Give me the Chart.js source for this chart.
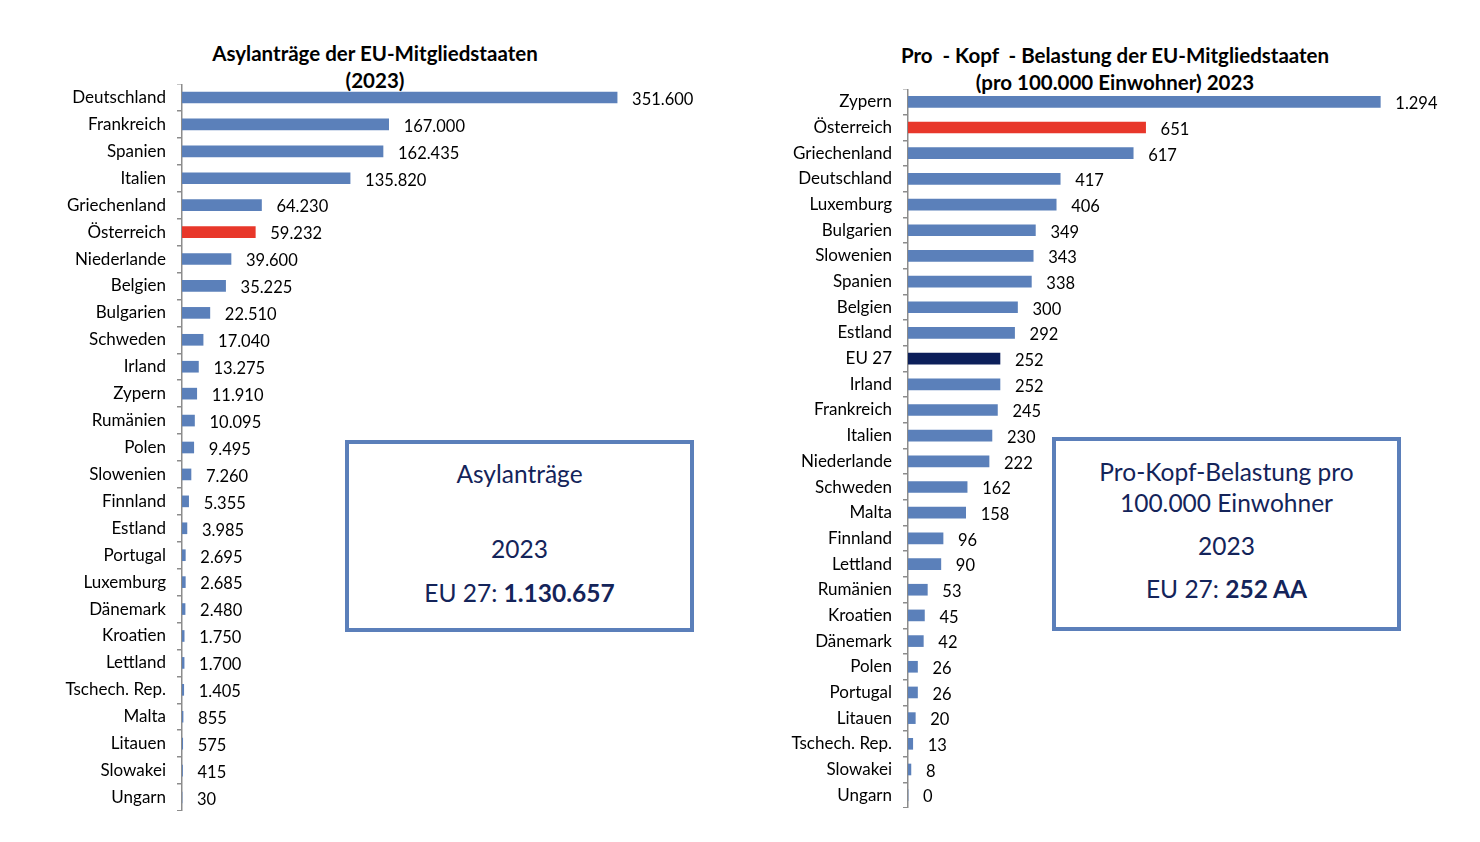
<!DOCTYPE html>
<html lang="de">
<head>
<meta charset="utf-8">
<title>Asylanträge EU 2023</title>
<script src="https://cdn.jsdelivr.net/npm/chart.js@4.4.1/dist/chart.umd.min.js"></script>
<style>
  html, body { margin: 0; padding: 0; background: #fff; }
  body { width: 1480px; height: 842px; position: relative; overflow: hidden; font-family: Lato, "Open Sans", sans-serif; }
  .title { position: absolute; text-align: center; font-weight: bold; font-size: 20.5px; line-height: 27px; color: #000; }
  .box { position: absolute; border: 4px solid #5b7fba; box-sizing: border-box; background: #fff; color: #14245a; font-size: 24.5px; }
  .box div { position: absolute; left: 0; right: 0; text-align: center; }
  .chartWrap { position: absolute; }
</style>
</head>
<body>

<div class="title" style="left:175px; top:40px; width:400px;">Asylanträge der EU-Mitgliedstaaten<br>(2023)</div>
<div class="title" style="left:855px; top:42px; width:520px;">Pro&nbsp; - Kopf&nbsp; - Belastung der EU-Mitgliedstaaten<br>(pro 100.000 Einwohner) 2023</div>

<div class="chartWrap" style="left:0; top:84px; width:740px; height:727px;"><canvas id="chartLeft"></canvas></div>
<div class="chartWrap" style="left:740px; top:89px; width:740px; height:719px;"><canvas id="chartRight"></canvas></div>

<div class="box" style="left:345px; top:440px; width:349px; height:192px;">
  <div style="top:15px;">Asylanträge</div>
  <div style="top:90px;">2023</div>
  <div style="top:134px;">EU 27: <b>1.130.657</b></div>
</div>

<div class="box" style="left:1052px; top:437px; width:349px; height:194px;">
  <div style="top:16px;">Pro-Kopf-Belastung pro</div>
  <div style="top:47px;">100.000 Einwohner</div>
  <div style="top:90px;">2023</div>
  <div style="top:133px;">EU 27: <b>252 AA</b></div>
</div>

<script>
// ******** DATA **********

// Asylanträge 2023 (absolut)
const countriesLeft = ["Deutschland", "Frankreich", "Spanien", "Italien", "Griechenland", "Österreich",
    "Niederlande", "Belgien", "Bulgarien", "Schweden", "Irland", "Zypern", "Rumänien", "Polen",
    "Slowenien", "Finnland", "Estland", "Portugal", "Luxemburg", "Dänemark", "Kroatien", "Lettland",
    "Tschech. Rep.", "Malta", "Litauen", "Slowakei", "Ungarn"];
const applicationsLeft = [351600, 167000, 162435, 135820, 64230, 59232, 39600, 35225, 22510, 17040,
    13275, 11910, 10095, 9495, 7260, 5355, 3985, 2695, 2685, 2480, 1750, 1700, 1405, 855, 575, 415, 30];

// Pro-Kopf-Belastung pro 100.000 Einwohner
const countriesRight = ["Zypern", "Österreich", "Griechenland", "Deutschland", "Luxemburg", "Bulgarien",
    "Slowenien", "Spanien", "Belgien", "Estland", "EU 27", "Irland", "Frankreich", "Italien",
    "Niederlande", "Schweden", "Malta", "Finnland", "Lettland", "Rumänien", "Kroatien", "Dänemark",
    "Polen", "Portugal", "Litauen", "Tschech. Rep.", "Slowakei", "Ungarn"];
const perCapitaRight = [1294, 651, 617, 417, 406, 349, 343, 338, 300, 292, 252, 252, 245, 230, 222,
    162, 158, 96, 90, 53, 45, 42, 26, 26, 20, 13, 8, 0];

const colorBlue = '#5b80ba';
const colorRed = '#e8372a';
const colorNavy = '#0c1f5a';

const fontFamily = 'Lato, "Open Sans", sans-serif';

// german number format with dot as thousands separator
const formatNumber = (value) => {
    return String(value).replace(/\B(?=(\d{3})+(?!\d))/g, '.');
}

const barColors = (labels) => {
    return labels.map(name => {
        if (name == 'Österreich') return colorRed;
        if (name == 'EU 27') return colorNavy;
        return colorBlue;
    });
}

// draw the value next to each bar
const valueLabelPlugin = {
    id: 'valueLabels',
    afterDatasetsDraw(chart) {
        const ctx = chart.ctx;
        const meta = chart.getDatasetMeta(0);
        const values = chart.data.datasets[0].data;
        ctx.save();
        ctx.font = '16.5px ' + fontFamily;
        ctx.fillStyle = '#000';
        ctx.textAlign = 'left';
        ctx.textBaseline = 'middle';
        meta.data.forEach((bar, index) => {
            ctx.fillText(formatNumber(values[index]), bar.x + 15, bar.y + 2);
        });
        ctx.restore();
    }
};

const makeChart = (canvasId, labels, values, axisWidth, maxValue, rightPadding) => {
    const ctx = document.getElementById(canvasId);
    return new Chart(ctx, {
        type: 'bar',
        data: {
            labels: labels,
            datasets: [{
                data: values,
                backgroundColor: barColors(labels),
                barThickness: 11,
                borderWidth: 0
            }]
        },
        options: {
            indexAxis: 'y',
            responsive: true,
            maintainAspectRatio: false,
            animation: false,
            layout: { padding: { top: 0, bottom: 0, left: 0, right: rightPadding } },
            plugins: {
                legend: { display: false },
                tooltip: { enabled: false }
            },
            scales: {
                x: {
                    display: false,
                    min: 0,
                    max: maxValue
                },
                y: {
                    // fixed axis width, no extra padding for the first/last label
                    afterFit: (scale) => {
                        scale.width = axisWidth;
                        scale.paddingTop = 0;
                        scale.paddingBottom = 0;
                    },
                    grid: {
                        offset: true,
                        drawOnChartArea: false,
                        drawTicks: true,
                        tickLength: 5,
                        color: '#8c8c8c',
                        lineWidth: 1.5
                    },
                    border: { display: true, color: '#8c8c8c', width: 1.5 },
                    ticks: {
                        padding: 11,
                        color: '#000',
                        autoSkip: false,
                        font: { family: fontFamily, size: 17 }
                    }
                }
            }
        },
        plugins: [valueLabelPlugin]
    });
}

window.addEventListener('load', () => {
    makeChart('chartLeft', countriesLeft, applicationsLeft, 182, 400000, 63);
    makeChart('chartRight', countriesRight, perCapitaRight, 168, 1400, 61);
});
</script>
</body>
</html>
